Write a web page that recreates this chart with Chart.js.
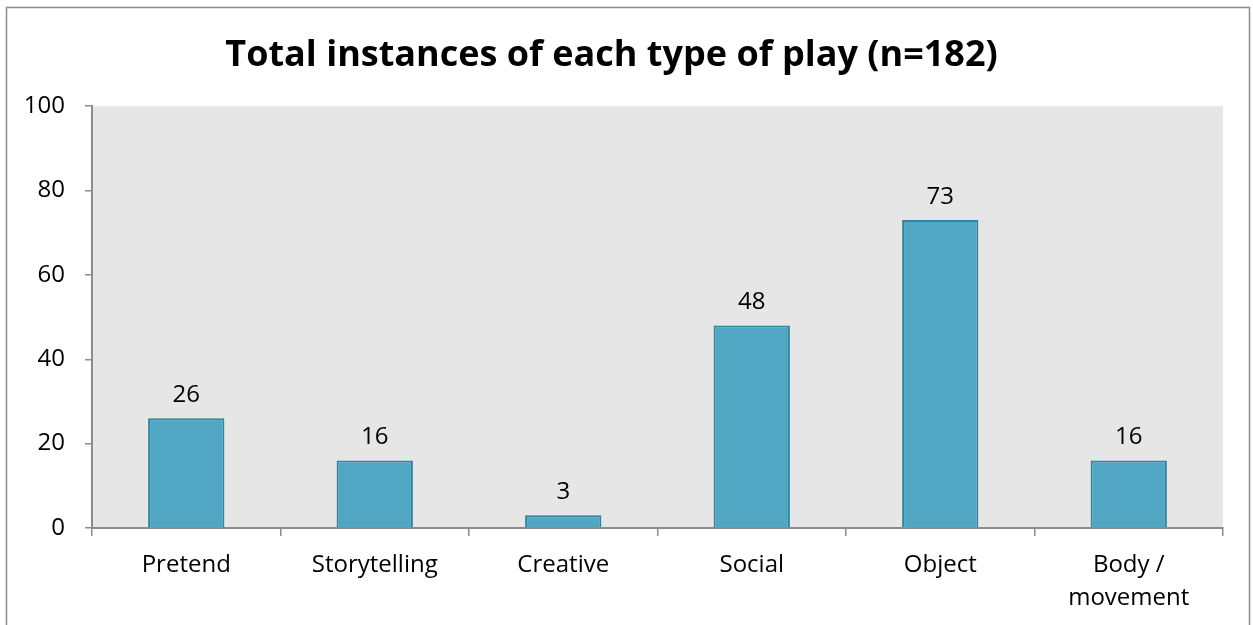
<!DOCTYPE html>
<html>
<head>
<meta charset="utf-8">
<script src="https://cdn.jsdelivr.net/npm/chart.js@4/dist/chart.umd.min.js"></script>
<style>
  html, body { margin: 0; padding: 0; background: #ffffff; }
  #wrap { width: 1253px; height: 625px; position: relative; }
</style>
</head>
<body>
<div id="wrap"><canvas id="playChart"></canvas></div>
<script>
const playTypes = ["Pretend", "Storytelling", "Creative", "Social", "Object", ["Body /", "movement"]];
const instances = [26, 16, 3, 48, 73, 16];
const yTicks = [0, 20, 40, 60, 80, 100];

const fontFamily = "'Open Sans', 'DejaVu Sans', sans-serif";

// grey plot background, outer frame and value labels above the bars
const chartDecor = {
  id: "chartDecor",
  beforeDraw(chart) {
    const { ctx, chartArea } = chart;
    ctx.save();
    ctx.fillStyle = "#ffffff";
    ctx.fillRect(0, 0, chart.width, chart.height);
    ctx.strokeStyle = "#8c8c8c";
    ctx.lineWidth = 1.5;
    ctx.strokeRect(6.5, 7.5, 1243, 700);
    ctx.fillStyle = "#e6e6e6";
    ctx.fillRect(chartArea.left, chartArea.top, chartArea.right - chartArea.left, chartArea.bottom - chartArea.top);
    ctx.restore();
  },
  afterDatasetsDraw(chart) {
    const { ctx } = chart;
    const meta = chart.getDatasetMeta(0);
    ctx.save();
    ctx.font = "24px " + fontFamily;
    ctx.fillStyle = "#000000";
    ctx.textAlign = "center";
    ctx.textBaseline = "bottom";
    meta.data.forEach((bar, i) => {
      ctx.fillText(String(instances[i]), bar.x, bar.y - 11);
    });
    ctx.restore();
  }
};

new Chart(document.getElementById("playChart"), {
  type: "bar",
  data: {
    labels: playTypes,
    datasets: [{
      label: "Instances",
      data: instances,
      backgroundColor: "#50a6c3",
      borderColor: "#2f85a2",
      borderWidth: 2,
      categoryPercentage: 1,
      barPercentage: 0.405
    }]
  },
  options: {
    responsive: true,
    maintainAspectRatio: false,
    animation: false,
    layout: { padding: { top: 0, right: 30, left: 0, bottom: 0 } },
    plugins: {
      legend: { display: false },
      tooltip: { enabled: false },
      title: {
        display: true,
        text: "Total instances of each type of play (n=182)",
        color: "#000000",
        font: { family: fontFamily, size: 36, weight: "bold", lineHeight: 1.2 },
        padding: { top: 34, bottom: 29 }
      }
    },
    scales: {
      x: {
        afterFit(scale) { scale.height = 97; },
        grid: {
          offset: true,
          drawOnChartArea: false,
          tickLength: 8,
          color: "#8c8c8c",
          lineWidth: 1.5
        },
        border: { color: "#8c8c8c", width: 2 },
        ticks: {
          color: "#000000",
          padding: 12,
          maxRotation: 0,
          font: { family: fontFamily, size: 24, lineHeight: 1.4 }
        }
      },
      y: {
        min: 0,
        max: 100,
        afterFit(scale) { scale.width = 92; },
        afterBuildTicks(scale) { scale.ticks = yTicks.map((v) => ({ value: v })); },
        grid: {
          drawOnChartArea: false,
          tickLength: 7,
          color: "#8c8c8c",
          lineWidth: 1.5
        },
        border: { color: "#8c8c8c", width: 2 },
        ticks: {
          color: "#000000",
          padding: 20,
          font: { family: fontFamily, size: 24 }
        }
      }
    }
  },
  plugins: [chartDecor]
});
</script>
</body>
</html>
